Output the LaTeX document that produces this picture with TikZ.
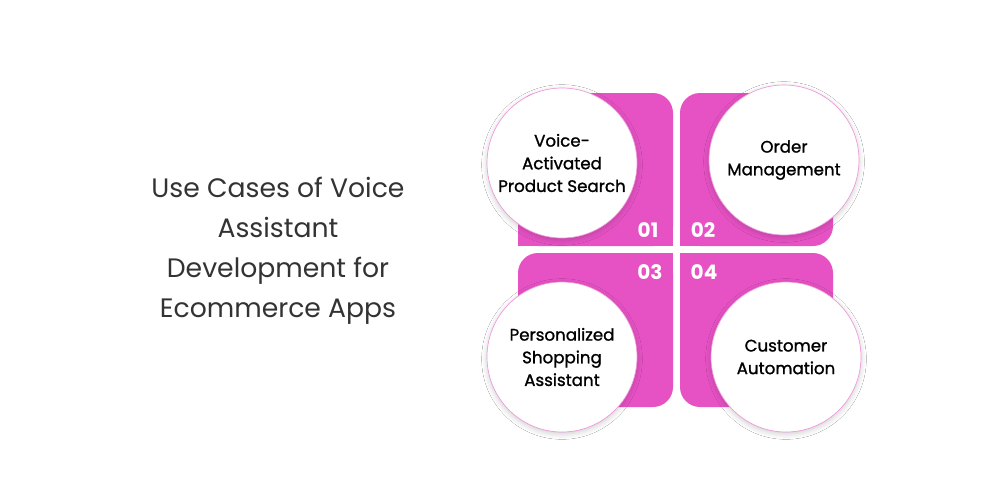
\documentclass[tikz,border=0pt]{standalone}
\usepackage{fontspec}
\setmainfont{Poppins}
\newfontfamily\medfont[FakeBold=1.2]{Poppins}
\usetikzlibrary{shadows.blur}
\definecolor{pk}{HTML}{E652C4}
\definecolor{tx}{HTML}{333333}
\begin{document}
\begin{tikzpicture}[x=0.75pt,y=-0.75pt,
  sq/.style={fill=pk},
  circ/.style={circle,inner sep=0pt,minimum size=150*0.75pt,fill=white,draw=pk!60,line width=0.5pt,
    blur shadow={shadow xshift=0pt,shadow yshift=-1.5pt,shadow blur radius=4pt,shadow opacity=20},
    align=center,font=\medfont\fontsize{12.5}{17}\selectfont,text=black},
  num/.style={font=\bfseries\fontsize{15}{15}\selectfont,text=white}]
\useasboundingbox (0,0) rectangle (1000,500);
\fill[white] (0,0) rectangle (1000,500);
\fill[sq,rounded corners=20*0.75pt] (518,246) -- (518,93) -- (673,93) -- (673,246) -- cycle;
\fill[sq] (518,200) rectangle (673,246);
\fill[sq,rounded corners=20*0.75pt] (680,246) -- (680,93) -- (833,93) -- (833,246) -- cycle;
\fill[sq] (680,150) rectangle (700,246);
\fill[sq,rounded corners=20*0.75pt] (518,253) rectangle (673,407);
\fill[sq] (653,253) rectangle (673,300);
\fill[sq,rounded corners=20*0.75pt] (680,253) rectangle (833,407);
\fill[sq] (680,253) rectangle (700,300);
\node[circ] (c1) at (562,163) {Voice-\\Activated\\Product Search};
\node[circ] (c2) at (784,160) {Order\\Management};
\node[circ] (c3) at (562,357) {Personalized\\Shopping\\Assistant};
\node[circ] (c4) at (786,357) {Customer\\Automation};
\node[num] (n1) at (648,230) {01};
\node[num] (n2) at (703,230) {02};
\node[num] (n3) at (650,272) {03};
\node[num] (n4) at (704,272) {04};
\node[align=center,text=tx,font=\fontsize{20}{30}\selectfont] (t) at (278,251) {Use Cases of Voice\\Assistant\\Development for\\Ecommerce Apps};
\end{tikzpicture}
\end{document}
